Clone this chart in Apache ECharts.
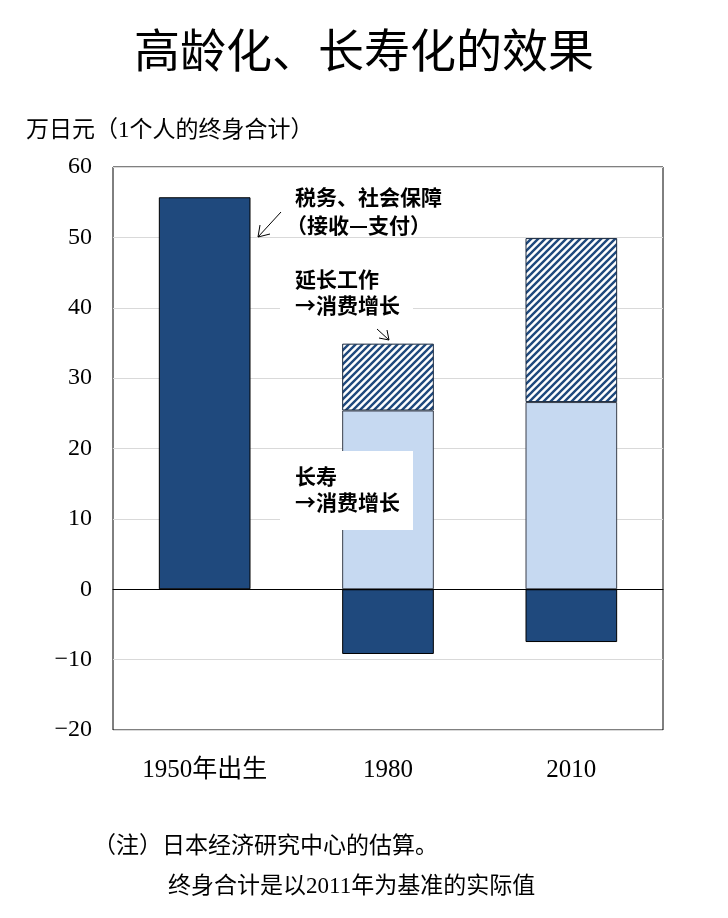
<!DOCTYPE html>
<html>
<head>
<meta charset="utf-8">
<script src="https://cdn.jsdelivr.net/npm/echarts@6/dist/echarts.min.js"></script>
<style>html,body{margin:0;padding:0;background:#fff}#c{width:728px;height:918px}</style>
</head>
<body>
<div id="c"></div>
<script>
var categories = ['1950年出生', '1980', '2010'];
var taxSocial = [55.7, -9.2, -7.5];
var longevity = ['-', 25.4, 26.6];
var longerWork = ['-', 9.5, 23.3];
var yTicks = [-20, -10, 0, 10, 20, 30, 40, 50, 60];

var FONT = '"Liberation Serif", "Noto Sans CJK SC", serif';
var CJK = '"Noto Sans CJK SC", "Liberation Serif", sans-serif';

function hatch() {
  var s = 7, c = document.createElement('canvas');
  c.width = s; c.height = s;
  var g = c.getContext('2d');
  g.fillStyle = '#fff'; g.fillRect(0, 0, s, s);
  g.strokeStyle = '#1F497D'; g.lineWidth = 2.4;
  g.beginPath();
  g.moveTo(-1, s + 1); g.lineTo(s + 1, -1);
  g.moveTo(-1 - s, s + 1); g.lineTo(1, -1);
  g.moveTo(s - 1, s + 1); g.lineTo(2 * s + 1, -1);
  g.stroke();
  return c;
}

var chart = echarts.init(document.getElementById('c'));
chart.setOption({
  animation: false,
  backgroundColor: '#fff',
  title: {
    text: '高龄化、长寿化的效果', left: 'center', top: 22,
    textStyle: { fontFamily: CJK, fontSize: 46, fontWeight: 'normal', color: '#000' }
  },
  grid: { left: 113, right: 65, top: 167, bottom: 188, show: true, borderColor: '#000', borderWidth: 1, backgroundColor: 'transparent' },
  xAxis: {
    type: 'category', data: categories,
    axisLine: { onZero: true, lineStyle: { color: '#000', width: 1 } },
    axisTick: { show: false },
    axisLabel: { interval: 0, margin: 28, fontFamily: FONT, fontSize: 25, color: '#000' },
    z: 5
  },
  yAxis: {
    type: 'value', min: yTicks[0], max: yTicks[yTicks.length - 1], interval: 10,
    axisLine: { show: false }, axisTick: { show: false },
    axisLabel: { margin: 21, fontFamily: FONT, fontSize: 24, color: '#000',
      formatter: function (v) { return v < 0 ? '\u2212' + Math.abs(v) : String(v); } },
    splitLine: { lineStyle: { color: '#d9d9d9', width: 1 } }
  },
  series: [
    { name: '税务、社会保障', type: 'bar', stack: 'a', barWidth: '50%', data: taxSocial,
      itemStyle: { color: '#1F497D', borderColor: '#000', borderWidth: 1 } },
    { name: '长寿', type: 'bar', stack: 'a', data: longevity,
      itemStyle: { color: '#C6D9F1', borderColor: '#3a3f4a', borderWidth: 1 } },
    { name: '延长工作', type: 'bar', stack: 'a', data: longerWork,
      itemStyle: { color: { image: hatch(), repeat: 'repeat' }, borderColor: '#1a2a40', borderWidth: 1 } }
  ],
  graphic: [
    { type: 'text', x: 26, y: 119, style: { text: '万日元（1个人的终身合计）', font: '23px ' + FONT, fill: '#000' } },
    { type: 'rect', shape: { x: 280, y: 264, width: 133, height: 58 }, style: { fill: '#fff' }, z: 10 },
    { type: 'rect', shape: { x: 280, y: 451, width: 133, height: 79 }, style: { fill: '#fff' }, z: 10 },
    { type: 'text', x: 295, y: 187, z: 11, style: { text: '税务、社会保障', font: 'bold 21px ' + CJK, fill: '#000' } },
    { type: 'text', x: 286, y: 215, z: 11, style: { text: '（接收—支付）', font: 'bold 21px ' + CJK, fill: '#000' } },
    { type: 'text', x: 295, y: 269, z: 11, style: { text: '延长工作', font: 'bold 21px ' + CJK, fill: '#000' } },
    { type: 'text', x: 295, y: 295, z: 11, style: { text: '\u2192消费增长', font: 'bold 21px ' + CJK, fill: '#000' } },
    { type: 'text', x: 295, y: 466, z: 11, style: { text: '长寿', font: 'bold 21px ' + CJK, fill: '#000' } },
    { type: 'text', x: 295, y: 492, z: 11, style: { text: '\u2192消费增长', font: 'bold 21px ' + CJK, fill: '#000' } },
    { type: 'polyline', z: 11, shape: { points: [[281, 212], [258, 237]] }, style: { stroke: '#000', lineWidth: 1, fill: null } },
    { type: 'polyline', z: 11, shape: { points: [[260, 225], [258, 237], [270, 234]] }, style: { stroke: '#000', lineWidth: 1, fill: null } },
    { type: 'polyline', z: 11, shape: { points: [[377, 329], [389, 340]] }, style: { stroke: '#000', lineWidth: 1, fill: null } },
    { type: 'polyline', z: 11, shape: { points: [[387, 330], [389, 340], [379, 338]] }, style: { stroke: '#000', lineWidth: 1, fill: null } },
    { type: 'text', x: 93, y: 835, style: { text: '（注）日本经济研究中心的估算。', font: '23px ' + FONT, fill: '#000' } },
    { type: 'text', x: 168, y: 875, style: { text: '终身合计是以2011年为基准的实际值', font: '23px ' + FONT, fill: '#000' } }
  ]
});
</script>
</body>
</html>
